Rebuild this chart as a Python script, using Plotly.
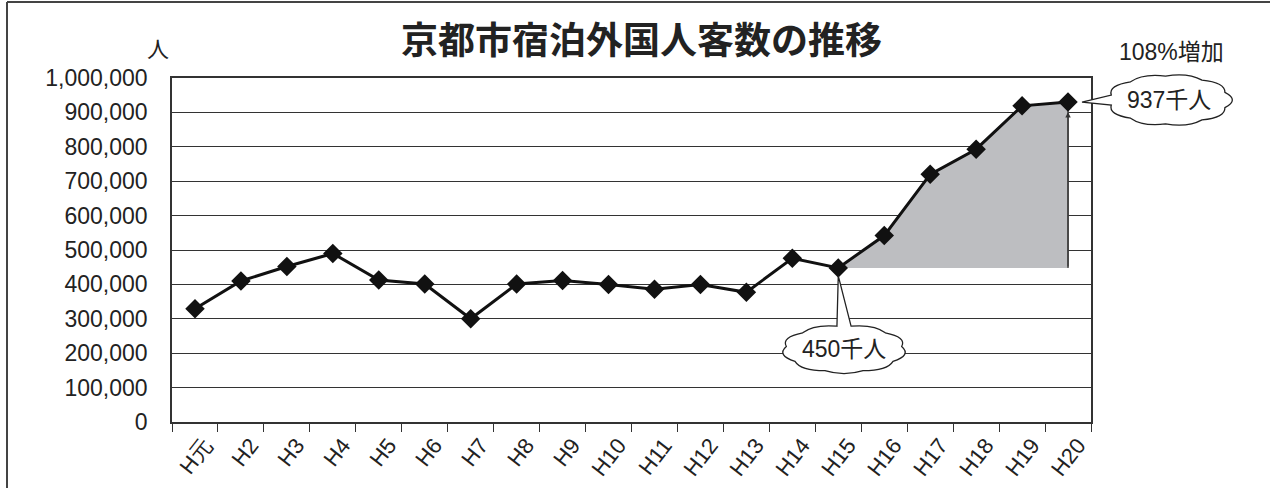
import math
import plotly.graph_objects as go

# ---------------- data ----------------
categories = ["H元", "H2", "H3", "H4", "H5", "H6", "H7", "H8", "H9", "H10",
              "H11", "H12", "H13", "H14", "H15", "H16", "H17", "H18", "H19", "H20"]
visitors = [329000, 410000, 452000, 490000, 413000, 401000, 300000, 401000, 411000, 400000,
            386000, 400000, 377000, 476000, 448000, 542000, 720000, 793000, 919000, 930000]
y_ticks = [0, 100000, 200000, 300000, 400000, 500000, 600000, 700000, 800000, 900000, 1000000]
y_tick_labels = ["0", "100,000", "200,000", "300,000", "400,000", "500,000",
                 "600,000", "700,000", "800,000", "900,000", "1,000,000"]
title_text = "京都市宿泊外国人客数の推移"
unit_label = "人"
start_label = "450千人"
end_label = "937千人"
growth_label = "108%増加"
base_index = 14          # H15
y_max = 1000000

# ---------------- layout geometry (screen pixels) ----------------
W, H = 1270, 488
L, R, T, B = 172, 1091, 78, 422

NARROW = "Liberation Sans, Arial, sans-serif"
CJK = "Liberation Sans, Noto Sans CJK JP, sans-serif"
TXT = "#222222"


def px_x(i):
    return L + (i + 0.5) * (R - L) / len(categories)


def px_y(v):
    return B - v / y_max * (B - T)


def paper(X, Y):
    return (X - L) / (R - L), (B - Y) / (B - T)


def pstr(pt):
    x, y = paper(*pt)
    return f"{x:.5f},{y:.5f}"


def cloud_path(cx, cy, rx, ry, gap_deg, gap_half, tip, n=9, bulge=1.2):
    a0 = gap_deg + gap_half
    a1 = gap_deg + 360 - gap_half

    def ell(a, k=1.0):
        r = math.radians(a)
        return (cx + k * rx * math.cos(r), cy + k * ry * math.sin(r))

    path = "M " + pstr(ell(a0))
    for k in range(n):
        s = a0 + (a1 - a0) * k / n
        e = a0 + (a1 - a0) * (k + 1) / n
        m = (s + e) / 2
        path += " Q " + pstr(ell(m, bulge)) + " " + pstr(ell(e))
    path += " L " + pstr(tip) + " Z"
    return path


fig = go.Figure()

# gray increase area
area_x = categories[base_index:] + [categories[-1]]
area_y = visitors[base_index:] + [visitors[base_index]]
fig.add_trace(go.Scatter(
    x=area_x, y=area_y, mode="lines", fill="toself",
    fillcolor="#bdbec1", line=dict(color="#4a4a4a", width=1.5),
    hoverinfo="skip", showlegend=False,
))

# main line
fig.add_trace(go.Scatter(
    x=categories, y=visitors, mode="lines+markers",
    line=dict(color="#111111", width=3),
    marker=dict(symbol="diamond", size=15, color="#111111"),
    showlegend=False,
))

shapes = []
# outer frame (top + left visible)
shapes.append(dict(type="line", xref="paper", yref="paper",
                   x0=paper(7, 2)[0], y0=paper(7, 2)[1], x1=paper(1290, 2)[0], y1=paper(1290, 2)[1],
                   line=dict(color="#444444", width=2)))
shapes.append(dict(type="line", xref="paper", yref="paper",
                   x0=paper(7, 2)[0], y0=paper(7, 2)[1], x1=paper(7, 510)[0], y1=paper(7, 510)[1],
                   line=dict(color="#444444", width=2)))

# clouds
tip_start = (px_x(base_index), px_y(visitors[base_index]) + 8)
shapes.append(dict(type="path", xref="paper", yref="paper",
                   path=cloud_path(844, 349, 58, 23, -90, 7, tip_start),
                   fillcolor="white", line=dict(color="#222222", width=1.3)))
tip_end = (px_x(len(categories) - 1) + 14, px_y(visitors[-1]))
shapes.append(dict(type="path", xref="paper", yref="paper",
                   path=cloud_path(1169, 100, 59, 24, 180, 12, tip_end),
                   fillcolor="white", line=dict(color="#222222", width=1.3)))

annotations = []
# title
tx, ty = paper(641, 38)
annotations.append(dict(text=title_text, x=tx, y=ty, xref="paper", yref="paper",
                        showarrow=False, xanchor="center", yanchor="middle",
                        font=dict(family="Noto Sans CJK JP, sans-serif", size=37,
                                  color=TXT, weight=600)))
# unit
ux, uy = paper(158, 47)
annotations.append(dict(text=unit_label, x=ux, y=uy, xref="paper", yref="paper",
                        showarrow=False, xanchor="center", yanchor="middle",
                        font=dict(family="Noto Sans CJK JP, sans-serif", size=22, color=TXT)))
# cloud texts
cx1, cy1 = paper(844, 349)
annotations.append(dict(text=start_label, x=cx1, y=cy1, xref="paper", yref="paper",
                        showarrow=False, xanchor="center", yanchor="middle",
                        font=dict(family=CJK, size=23, color=TXT)))
cx2, cy2 = paper(1169, 100)
annotations.append(dict(text=end_label, x=cx2, y=cy2, xref="paper", yref="paper",
                        showarrow=False, xanchor="center", yanchor="middle",
                        font=dict(family=CJK, size=23, color=TXT)))
gx, gy = paper(1171, 52)
annotations.append(dict(text=growth_label, x=gx, y=gy, xref="paper", yref="paper",
                        showarrow=False, xanchor="center", yanchor="middle",
                        font=dict(family=CJK, size=23, color=TXT)))
# arrow from base level up to last point
annotations.append(dict(text="", x=categories[-1], y=visitors[-1], xref="x", yref="y",
                        ax=0, ay=(visitors[-1] - visitors[base_index]) / y_max * (B - T),
                        axref="pixel", ayref="pixel",
                        showarrow=True, arrowhead=2, arrowsize=0.9, arrowwidth=1.2,
                        arrowcolor="#333333", standoff=10))

fig.update_layout(
    width=W, height=H,
    margin=dict(l=L, r=W - R, t=T, b=H - B, pad=0, autoexpand=False),
    paper_bgcolor="white", plot_bgcolor="white",
    shapes=shapes, annotations=annotations,
    showlegend=False,
)
fig.update_xaxes(
    type="category", categoryorder="array", categoryarray=categories,
    range=[-0.5, len(categories) - 0.5], automargin=False,
    tickson="boundaries", ticks="outside", ticklen=8, tickwidth=1.2, tickcolor="#333333",
    tickangle=-52, tickfont=dict(family=NARROW, size=22, color=TXT),
    ticklabelshift=10,
    showgrid=False, showline=True, mirror=True, linecolor="#333333", linewidth=1.5,
    zeroline=False,
)
fig.update_yaxes(
    range=[0, y_max], tickmode="array", tickvals=y_ticks, ticktext=y_tick_labels,
    automargin=False,
    ticks="outside", ticklen=18, tickcolor="rgba(0,0,0,0)",
    tickfont=dict(family=NARROW, size=23, color=TXT),
    showgrid=True, gridcolor="#333333", gridwidth=1.2,
    showline=True, mirror=True, linecolor="#333333", linewidth=1.5,
    zeroline=False,
)

fig.write_html(
    "out.html",
    config={"displayModeBar": False},
    post_script="document.body.style.margin='0';document.body.style.overflow='hidden';",
)
